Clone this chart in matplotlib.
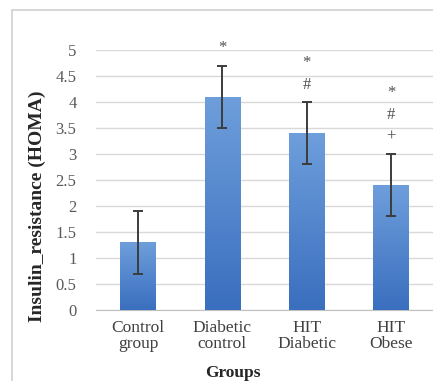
import matplotlib
matplotlib.use("Agg")
import matplotlib.pyplot as plt
from matplotlib.patches import Rectangle
import numpy as np

# data
groups = ["Control\ngroup", "Diabetic\ncontrol", "HIT\nDiabetic", "HIT\nObese"]
homa = [1.3, 4.1, 3.4, 2.4]
homa_err = [0.6, 0.6, 0.6, 0.6]
signif = [[], ["*"], ["#", "*"], ["+", "#", "*"]]

plt.rcParams['font.family'] = ['Liberation Serif', 'DejaVu Serif']

fig = plt.figure(figsize=(4.33, 3.81), dpi=100)
ax = fig.add_axes([96/433, 71/381, 337/433, 260/381])

x = np.arange(len(groups))
bars = ax.bar(x, homa, width=0.42, color="none", zorder=3)
ax.errorbar(x, homa, yerr=homa_err, fmt="none", ecolor="#3c3c3c",
            elinewidth=1.4, capsize=3.5, capthick=1.4, zorder=5)

# excel-ish vertical gradient in each bar
grad = np.linspace(0, 1, 256).reshape(-1, 1)
cmap = matplotlib.colors.LinearSegmentedColormap.from_list("b", ["#3a6fbf", "#6e9edb"])
for b in bars:
    bx, by = b.get_x(), b.get_y()
    im = ax.imshow(grad, cmap=cmap, origin="lower", aspect="auto", zorder=4,
                   extent=[bx, bx + b.get_width(), by, by + b.get_height()])
    im.set_clip_path(b)

# significance marks
for i, marks in enumerate(signif):
    top = homa[i] + homa_err[i]
    for k, m in enumerate(marks):
        ax.text(x[i], top + 0.33 + 0.42*k, m, ha="center", va="center",
                fontsize=12, color="#505050", clip_on=False)

ax.set_xlim(-0.5, 3.5)
ax.set_ylim(0, 5)
ax.set_yticks(np.arange(0, 5.01, 0.5))
ax.set_yticklabels(["0", "0.5", "1", "1.5", "2", "2.5", "3", "3.5", "4", "4.5", "5"])
ax.set_xticks(x)
ax.set_xticklabels(groups, fontsize=12.5, color="#404040", linespacing=1.0)
ax.tick_params(axis="y", length=0, labelsize=12, labelcolor="#595959", pad=14)
ax.tick_params(axis="x", length=0, pad=7)
ax.grid(axis="y", color="#d9d9d9", linewidth=1.0, zorder=0)
ax.set_axisbelow(True)
for s in ["top", "right", "left"]:
    ax.spines[s].set_visible(False)
ax.spines["bottom"].set_color("#bfbfbf")

ax.set_ylabel("Insulin_resistance (HOMA)", fontsize=14, fontweight="bold",
              color="#262626")
ax.yaxis.set_label_coords(-50/337, 0.40)
fig.text(233/433, 1 - 373/381, "Groups", ha="center", va="center",
         fontsize=12.5, fontweight="bold", color="#262626")

# outer chart border
fig.patches.append(Rectangle((12/433, -0.2), 1.2, 1.2 - 10/381, transform=fig.transFigure,
                             fill=False, edgecolor="#d0d0d0", linewidth=1.2))

fig.savefig("out.png", dpi=100)
